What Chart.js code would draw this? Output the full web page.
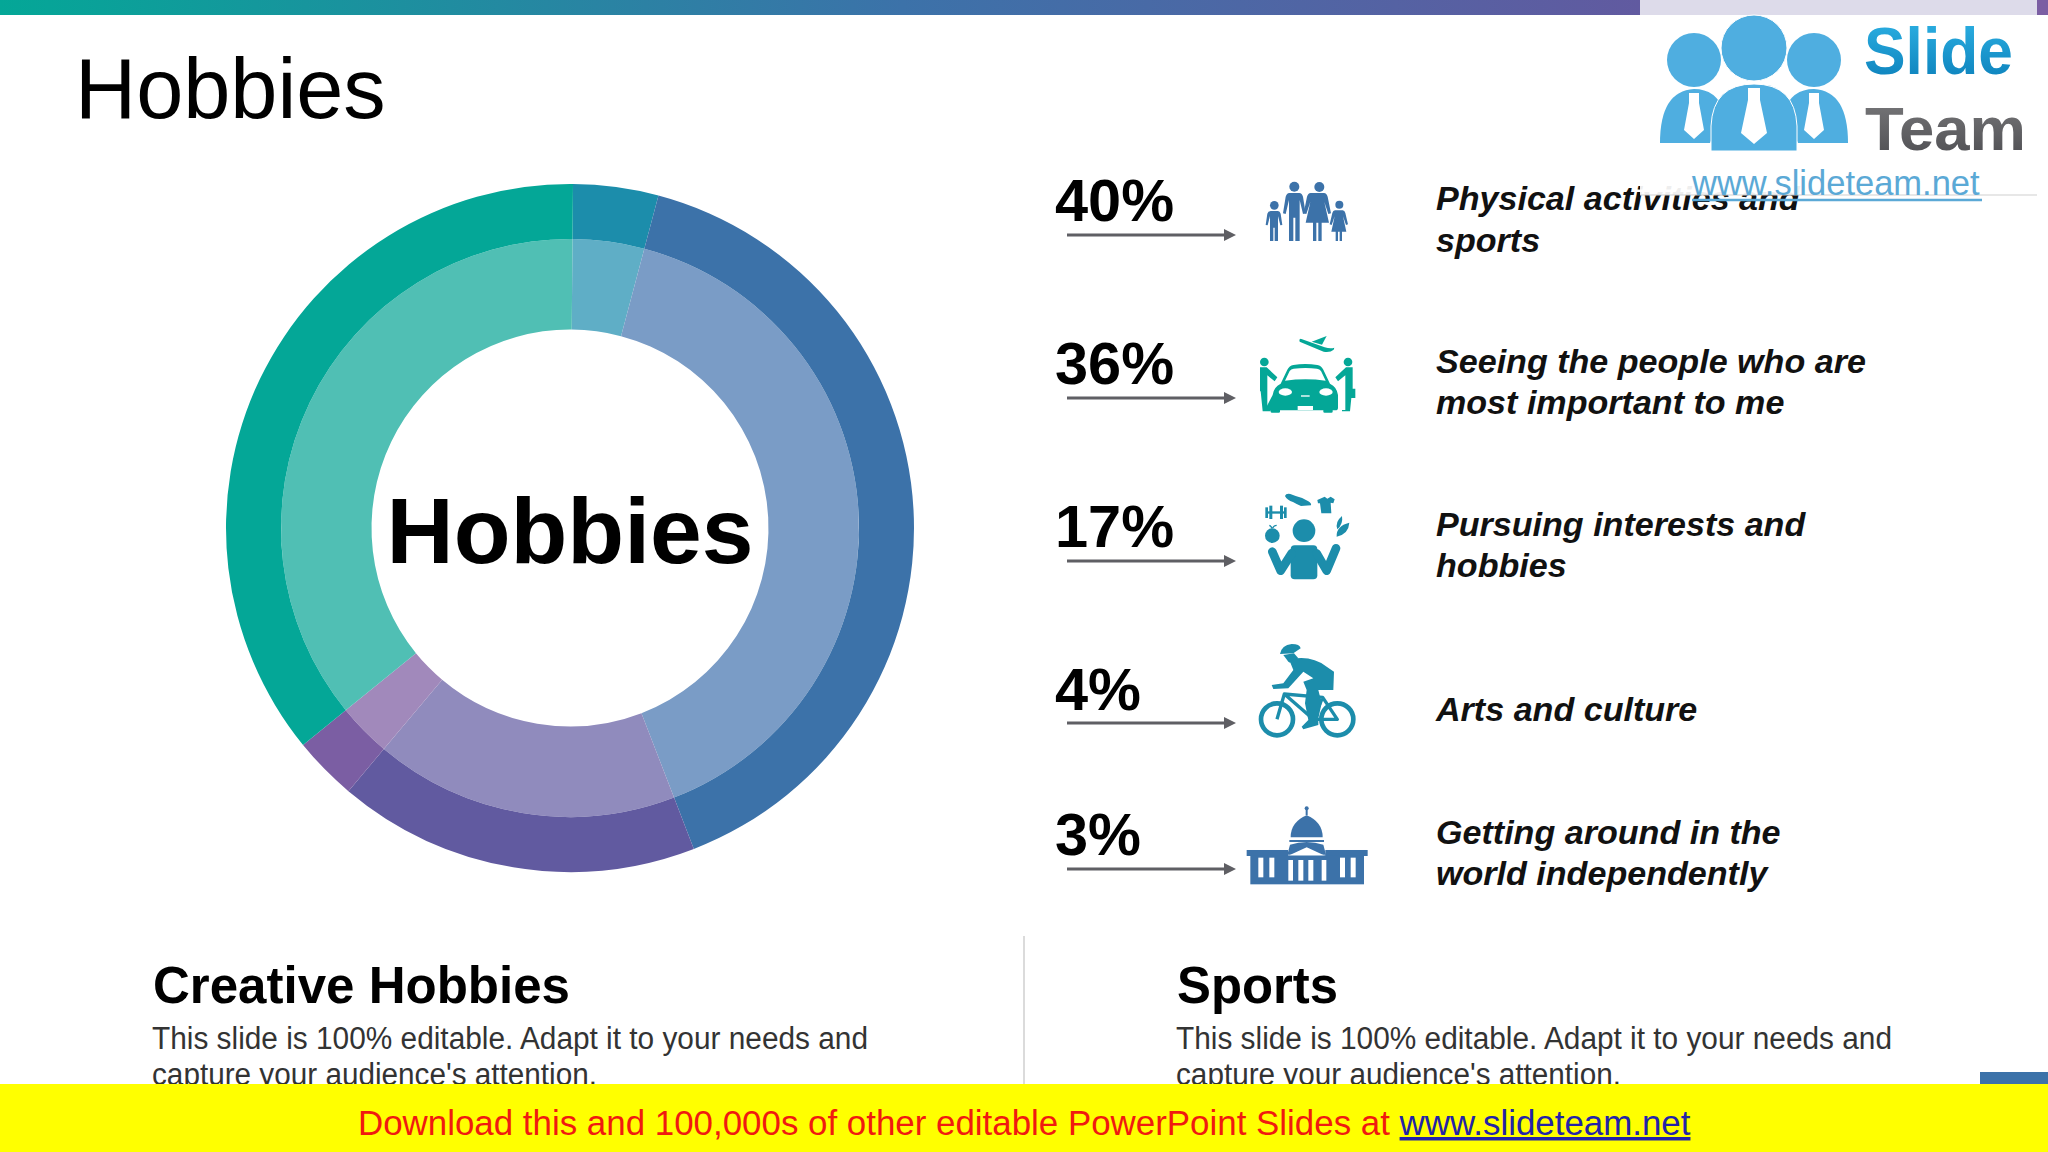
<!DOCTYPE html>
<html>
<head>
<meta charset="utf-8">
<title>Hobbies</title>
<script src="https://cdn.jsdelivr.net/npm/chart.js@4"></script>
<style>
    html, body { margin: 0; padding: 0; background: #fff; }
    body { width: 2048px; height: 1152px; overflow: hidden; position: relative; font-family: "Liberation Sans", Arial, sans-serif; }
    #slide { position: absolute; left: 0; top: 0; }
    #ringBox { position: absolute; left: 220px; top: 178px; width: 700px; height: 700px; }
    #overlay { position: absolute; left: 0; top: 0; }
    text { font-family: "Liberation Sans", Arial, sans-serif; }
</style>
</head>
<body>
<svg id="slide" width="2048" height="1152" viewBox="0 0 2048 1152" xmlns="http://www.w3.org/2000/svg">
    <defs>
        <linearGradient id="topBar" x1="0" x2="1" y1="0" y2="0">
            <stop offset="0" stop-color="#04A797"/>
            <stop offset="0.55" stop-color="#3C72A9"/>
            <stop offset="1" stop-color="#615AA0"/>
        </linearGradient>
        <linearGradient id="slideText" x1="0" x2="0" y1="0" y2="1">
            <stop offset="0" stop-color="#2FB4E6"/>
            <stop offset="1" stop-color="#0A7DB8"/>
        </linearGradient>
        <linearGradient id="teamText" x1="0" x2="0" y1="0" y2="1">
            <stop offset="0" stop-color="#7a7a7c"/>
            <stop offset="1" stop-color="#4c4c50"/>
        </linearGradient>
    </defs>
    <text x="75" y="118" font-size="84.7" fill="#000">Hobbies</text>
    <g id="rows"></g>

    <!-- family -->
    <g transform="translate(1040 160) scale(.33333)" fill="#3C72A9">
        <circle cx="703" cy="136" r="13"/>
        <path d="M692 153h22q6 1 8 8l5 34-6 1-7-28v75h-10v-40h-4v40h-10v-75l-7 28-6-1 5-34q2-7 10-8z"/>
        <circle cx="763" cy="80" r="15"/>
        <path d="M748 99h30q8 1 11 11l8 50-8 2-10-42v123h-13v-70h-6v70h-13v-123l-10 42-8-2 8-50q3-10 11-11z"/>
        <circle cx="838" cy="81" r="15"/>
        <path d="M824 99h28q8 1 11 11l10 50-8 2-12-36 14 62h-22v55h-10v-55h-6v55h-10v-55h-22l14-62-12 36-8-2 10-50q3-10 11-11z"/>
        <circle cx="898" cy="134" r="12"/>
        <path d="M888 151h20q6 1 8 8l8 34-6 2-9-26 10 46h-13v28h-7v-28h-5v28h-7v-28h-13l10-46-9 26-6-2 8-34q2-7 8-8z"/>
    </g>

    <!-- car -->
    <g transform="translate(1040 160) scale(.33333)" fill="#04A797">
        <path d="M778 539l4-3 72 26q18 5 29 1l-2 6q-10 9-30 6l-72-30z"/>
        <path d="M815 545l45-17-14 26z"/>
        <path d="M698 705q3-24 24-34l20-42q6-12 18-14 36-6 72 0 12 2 18 14l20 42q21 10 24 34v38q0 8-8 8h-8v4q0 3-4 3h-20q-4 0-4-3v-4h-130v4q0 3-4 3h-20q-4 0-4-3v-4h-6q-8 0-8-8z"/>
        <path fill="#fff" d="M735 662l14-29q4-6 12-7 36-4 70 0 8 1 12 7l14 29q-60-8-122 0z"/>
        <ellipse fill="#fff" cx="736" cy="696" rx="20" ry="11"/>
        <ellipse fill="#fff" cx="858" cy="696" rx="20" ry="11"/>
        <rect fill="#fff" x="783" y="706" width="26" height="4"/>
        <rect fill="#fff" x="773" y="738" width="46" height="12"/>
        <circle cx="673" cy="606" r="13"/>
        <path d="M660 622h20l32 30-8 12-22-18v104h10v4h-24l-6-60h-2z"/>
        <circle cx="924" cy="606" r="13"/>
        <path d="M938 622h-20l-32 30 8 12 22-18v104h-10v4h24l4-40h12v-28h-8z"/>
    </g>

    <!-- juggling figure -->
    <g transform="translate(1040 470) scale(.33333)" fill="#1C8DAB">
        <circle cx="792" cy="182" r="34"/>
        <rect x="752" y="226" width="80" height="102" rx="12"/>
        <path d="M697 245L722 302L755 250M888 235L860 302L830 250" fill="none" stroke="#1C8DAB" stroke-width="26" stroke-linecap="round" stroke-linejoin="round"/>
        <circle cx="697" cy="197" r="22"/>
        <path d="M696 176q-2-8-8-10M698 174q4-8 12-8" fill="none" stroke="#1C8DAB" stroke-width="4"/>
        <rect x="684" y="124" width="48" height="7"/>
        <rect x="676" y="112" width="8" height="32"/>
        <rect x="688" y="107" width="9" height="40"/>
        <rect x="720" y="107" width="9" height="40"/>
        <rect x="732" y="112" width="8" height="32"/>
        <path d="M735 78q2-8 16-6l16 6q20 4 38 16 10 6 8 12l-30 2q-14-6-24-12-18-6-24-18z"/>
        <path d="M832 90l22-10 8 6 10-6 12 8-4 12-8-2 2 32-30 0-4-30-6 0z"/>
        <path d="M892 178q-8-22 14-40 4 24-14 40zM890 200q-2-32 38-42-2 34-38 42z"/>
    </g>

    <!-- cyclist -->
    <g transform="translate(1040 470) scale(.33333)" fill="#1C8DAB">
        <circle cx="711" cy="748" r="48" fill="none" stroke="#1C8DAB" stroke-width="14"/>
        <circle cx="892" cy="748" r="48" fill="none" stroke="#1C8DAB" stroke-width="14"/>
        <path d="M711 748L733 672L848 682L892 748L820 748L733 672M820 748L848 682" fill="none" stroke="#1C8DAB" stroke-width="10" stroke-linejoin="round"/>
        <path d="M720 552q5-27 35-30 25 0 27 13l-22 15z"/>
        <path d="M730 555l32-5 13 15-25 13-5-3z"/>
        <path d="M750 575l20-10q50-5 90 25l22 15-2 55h-45l10 40-10 45v20l-45 13-5-8 20-20-10-50 5-40-10-25 30-10-30-20-45 50-45 2-5-12 35-5 30-40z"/>
    </g>

    <!-- capitol -->
    <g transform="translate(1040 470) scale(.33333)" fill="#3C72A9">
        <rect x="797" y="1012" width="6" height="24"/>
        <circle cx="800" cy="1015" r="6"/>
        <path d="M752 1102q0-46 48-66 48 20 48 66z"/>
        <path d="M748 1110h104v6h-104z"/>
        <path d="M750 1124q50-16 100 0l8 30h-116z"/>
        <rect x="620" y="1140" width="124" height="18"/>
        <rect x="856" y="1140" width="127" height="18"/>
        <rect x="631" y="1156" width="341" height="87"/>
        <path d="M748 1156l52-24 52 24z" fill="#fff"/>
        <g fill="#fff">
            <rect x="655" y="1163" width="15" height="59"/>
            <rect x="688" y="1163" width="15" height="59"/>
            <rect x="900" y="1163" width="15" height="59"/>
            <rect x="932" y="1163" width="15" height="59"/>
            <rect x="745" y="1170" width="14" height="62"/>
            <rect x="775" y="1170" width="15" height="62"/>
            <rect x="805" y="1170" width="15" height="62"/>
            <rect x="845" y="1170" width="14" height="62"/>
        </g>
    </g>

    <!-- bottom text -->
    <line x1="1024" y1="936" x2="1024" y2="1084" stroke="#cfcfcf" stroke-width="1.5"/>
    <text x="153" y="1003" font-size="52" font-weight="bold" fill="#000" textLength="417" lengthAdjust="spacingAndGlyphs">Creative Hobbies</text>
    <text x="152" y="1049" font-size="31" fill="#333" textLength="716" lengthAdjust="spacingAndGlyphs">This slide is 100% editable. Adapt it to your needs and</text>
    <text x="152" y="1085" font-size="31" fill="#333" textLength="445" lengthAdjust="spacingAndGlyphs">capture your audience's attention.</text>
    <text x="1177" y="1003" font-size="52" font-weight="bold" fill="#000" textLength="161" lengthAdjust="spacingAndGlyphs">Sports</text>
    <text x="1176" y="1049" font-size="31" fill="#333" textLength="716" lengthAdjust="spacingAndGlyphs">This slide is 100% editable. Adapt it to your needs and</text>
    <text x="1176" y="1085" font-size="31" fill="#333" textLength="445" lengthAdjust="spacingAndGlyphs">capture your audience's attention.</text>

    <rect x="1980" y="1072" width="68" height="12" fill="#3C72A9"/>
    <rect x="0" y="1084" width="2048" height="68" fill="#FFFF00"/>
    <text x="358" y="1135" font-size="34.9" fill="#F01A10">Download this and 100,000s of other editable PowerPoint Slides at <tspan fill="#2323A8" text-decoration="underline">www.slideteam.net</tspan></text>

    <!-- top bar and logo -->
    <rect x="0" y="0" width="1640" height="15" fill="url(#topBar)"/>
    <rect x="1640" y="0" width="397" height="15" fill="#DDDBEA"/>
    <rect x="2037" y="0" width="11" height="15" fill="#7B5EA3"/>
    <rect x="1640" y="15" width="397" height="180" fill="#fff" fill-opacity=".93"/>
    <line x1="1640" y1="195" x2="2037" y2="195" stroke="#cfcfcf" stroke-width="1"/>
    <g fill="#4FAEE0">
        <circle cx="1694" cy="60" r="27"/>
        <circle cx="1814" cy="60" r="27"/>
        <path d="M1660 143q0-52 34-54 22 0 30 22l-14 32z"/>
        <path d="M1848 143q0-52-34-54-22 0-30 22l14 32z"/>
        <circle cx="1754" cy="48" r="33" stroke="#fff" stroke-width="1"/>
        <path d="M1711 151v-25q2-42 43-42 41 0 43 42v25z" stroke="#fff" stroke-width="1"/>
    </g>
    <g fill="#fff">
        <path d="M1689 93h10v10l5 27-10 9-10-9 5-27z"/>
        <path d="M1809 93h10v10l5 27-10 9-10-9 5-27z"/>
        <path d="M1748 88h12v12l7 33-13 11-13-11 7-33z"/>
    </g>
    <text x="1864" y="74" font-size="67" font-weight="bold" fill="url(#slideText)" textLength="149" lengthAdjust="spacingAndGlyphs">Slide</text>
    <text x="1865" y="150" font-size="61" font-weight="bold" fill="url(#teamText)" textLength="161" lengthAdjust="spacingAndGlyphs">Team</text>
    <text x="1692" y="195" font-size="34.5" fill="#5BA9D6">www.slideteam.net</text>
    <line x1="1692" y1="200" x2="1982" y2="200" stroke="#5BA9D6" stroke-width="2.5"/>
</svg>

<div id="ringBox"><canvas id="ringChart" width="700" height="700"></canvas></div>

<svg id="overlay" width="2048" height="1152" viewBox="0 0 2048 1152" xmlns="http://www.w3.org/2000/svg" pointer-events="none">
    <text x="570" y="563" font-size="93" font-weight="bold" fill="#000" text-anchor="middle">Hobbies</text>
</svg>

<script>
    // ring slices, clockwise from just past 12 o'clock
    const ringCategories = ['Arts and culture', 'Physical activities and sports', 'Pursuing interests and hobbies', 'Getting around in the world independently', 'Seeing the people who are most important to me'];
    const ringValues = [4, 40, 17, 3, 36];
    const outerColors = ['#1C8DAB', '#3C72A9', '#615AA0', '#7B5EA3', '#04A797'];
    const innerColors = ['#5FAEC6', '#7A9CC6', '#908BBD', '#A189BB', '#50BFB4'];

    // list on the right
    const rowPercents = ['40%', '36%', '17%', '4%', '3%'];
    const rowLabels = [
        ['Physical activities and', 'sports'],
        ['Seeing the people who are', 'most important to me'],
        ['Pursuing interests and', 'hobbies'],
        ['Arts and culture'],
        ['Getting around in the', 'world independently']
    ];
    const percentBaselines = [221, 384, 547, 710, 855];
    const arrowRows = [235, 398, 561, 723, 869];
    const labelBaselines = [[210, 252], [373, 414], [536, 577], [721], [844, 885]];

    function svgEl(name, attrs, text) {
        const el = document.createElementNS('http://www.w3.org/2000/svg', name);
        Object.keys(attrs).forEach(k => el.setAttribute(k, attrs[k]));
        if (text) el.textContent = text;
        return el;
    }

    const rows = document.getElementById('rows');
    rowPercents.forEach((pct, i) => {
        rows.appendChild(svgEl('text', { x: 1055, y: percentBaselines[i], 'font-size': 59.5, 'font-weight': 'bold', fill: '#000' }, pct));
        const y = arrowRows[i];
        rows.appendChild(svgEl('line', { x1: 1067, y1: y, x2: 1226, y2: y, stroke: '#5F5F64', 'stroke-width': 3 }));
        rows.appendChild(svgEl('path', { d: `M1224 ${y - 6}L1236 ${y}L1224 ${y + 6}z`, fill: '#5F5F64' }));
        rowLabels[i].forEach((line, j) => {
            rows.appendChild(svgEl('text', { x: 1436, y: labelBaselines[i][j], 'font-size': 34.1, 'font-weight': 'bold', 'font-style': 'italic', fill: '#111' }, line));
        });
    });

    new Chart(document.getElementById('ringChart'), {
        type: 'doughnut',
        data: {
            labels: ringCategories,
            datasets: [
                { data: ringValues, backgroundColor: outerColors, borderWidth: 0, weight: 55 },
                { data: ringValues, backgroundColor: innerColors, borderWidth: 0, weight: 90.5 }
            ]
        },
        options: {
            responsive: false,
            animation: false,
            rotation: 0.5,
            cutout: '57.7%',
            layout: { padding: 6 },
            plugins: { legend: { display: false }, tooltip: { enabled: false }, title: { display: false } }
        }
    });
</script>
</body>
</html>
